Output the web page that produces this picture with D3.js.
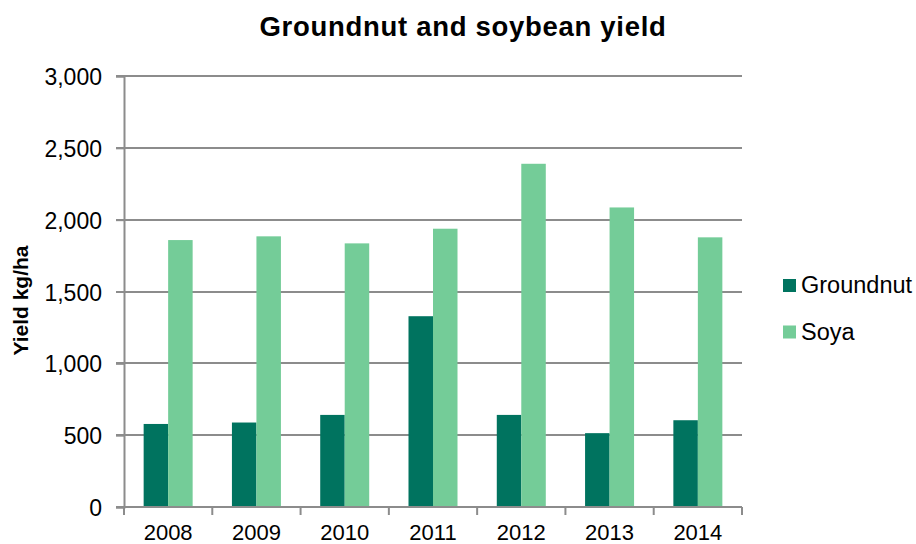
<!DOCTYPE html>
<html>
<head>
<meta charset="utf-8">
<script src="https://cdn.jsdelivr.net/npm/d3@7"></script>
<style>
  body { margin: 0; background: #fff; }
  svg { display: block; font-family: "Liberation Sans", Arial, sans-serif; }
</style>
</head>
<body>
<svg id="chart" width="916" height="544"></svg>
<script>
// Yield per season, kg/ha
const years = ["2008", "2009", "2010", "2011", "2012", "2013", "2014"];
const groundnut = [578, 588, 641, 1328, 641, 514, 604];
const soya = [1858, 1884, 1835, 1937, 2389, 2085, 1877];
const seriesNames = ["Groundnut", "Soya"];
const seriesColors = ["#00735f", "#74cc98"];
const yTicks = [0, 500, 1000, 1500, 2000, 2500, 3000];

const svg = d3.select("#chart");
const plot = { left: 124, right: 742, top: 76, bottom: 507 };

const x = d3.scaleBand().domain(years).range([plot.left, plot.right])
  .paddingInner(0.445).paddingOuter(0.2225);
const xSub = d3.scaleBand().domain(seriesNames).range([0, x.bandwidth()]);
const y = d3.scaleLinear().domain([0, 3000]).range([plot.bottom, plot.top]);

const lineColor = "#8c8c8c";
const lineWidth = 2;

// horizontal gridlines (with the tick stub left of the axis)
svg.append("g")
  .selectAll("line")
  .data(yTicks.filter(d => d > 0))
  .join("line")
  .attr("x1", plot.left - 8)
  .attr("x2", plot.right)
  .attr("y1", d => Math.round(y(d)))
  .attr("y2", d => Math.round(y(d)))
  .attr("stroke", lineColor)
  .attr("stroke-width", lineWidth);

// grouped bars
const rows = years.map((yr, i) => ({ year: yr, values: [groundnut[i], soya[i]] }));
svg.append("g")
  .selectAll("g")
  .data(rows)
  .join("g")
  .attr("transform", d => `translate(${x(d.year)},0)`)
  .selectAll("rect")
  .data(d => d.values.map((v, j) => ({ name: seriesNames[j], value: v, color: seriesColors[j] })))
  .join("rect")
  .attr("x", d => xSub(d.name))
  .attr("width", xSub.bandwidth())
  .attr("y", d => y(d.value))
  .attr("height", d => y(0) - y(d.value))
  .attr("fill", d => d.color);

// y axis
const yAxis = d3.axisLeft(y).tickValues(yTicks).tickSize(8).tickPadding(14).tickFormat(d3.format(","));
const gy = svg.append("g").attr("transform", `translate(${plot.left},0)`).call(yAxis);
gy.attr("font-family", null).attr("font-size", null);
gy.select(".domain").attr("stroke", lineColor).attr("stroke-width", lineWidth);
gy.selectAll(".tick line").attr("stroke", lineColor).attr("stroke-width", lineWidth);
gy.selectAll(".tick text")
  .style("font-size", "23px")
  .attr("fill", "#000")
  .attr("x", -22)
  .attr("dy", "0.37em");

// x axis with ticks between categories
const gx = svg.append("g").attr("transform", `translate(0,${Math.round(y(0))})`);
gx.append("line").attr("x1", plot.left - 8).attr("x2", plot.right)
  .attr("stroke", lineColor).attr("stroke-width", lineWidth);
const bounds = d3.range(years.length + 1).map(i => plot.left + i * x.step());
gx.selectAll("line.tk").data(bounds).join("line").attr("class", "tk")
  .attr("x1", d => d).attr("x2", d => d).attr("y1", 0).attr("y2", 8)
  .attr("stroke", lineColor).attr("stroke-width", lineWidth);
gx.selectAll("text").data(years).join("text")
  .attr("x", d => x(d) + x.bandwidth() / 2)
  .attr("y", 33)
  .attr("text-anchor", "middle")
  .style("font-size", "22px")
  .text(d => d);

// chart title
svg.append("text")
  .attr("x", 463).attr("y", 36)
  .attr("text-anchor", "middle")
  .style("font-size", "27.5px").style("font-weight", "bold")
  .style("letter-spacing", "0.7px")
  .text("Groundnut and soybean yield");

// y axis title
svg.append("text")
  .attr("transform", `translate(28,${(plot.top + plot.bottom) / 2 + 9}) rotate(-90)`)
  .attr("text-anchor", "middle")
  .style("font-size", "21px").style("font-weight", "bold")
  .text("Yield kg/ha");

// legend
const legend = svg.append("g").selectAll("g").data(seriesNames).join("g")
  .attr("transform", (d, i) => `translate(783,${279 + i * 46.5})`);
legend.append("rect").attr("width", 13).attr("height", 13)
  .attr("fill", (d, i) => seriesColors[i]);
legend.append("text").attr("x", 18).attr("y", 14)
  .style("font-size", "23.5px").text(d => d);
</script>
</body>
</html>
